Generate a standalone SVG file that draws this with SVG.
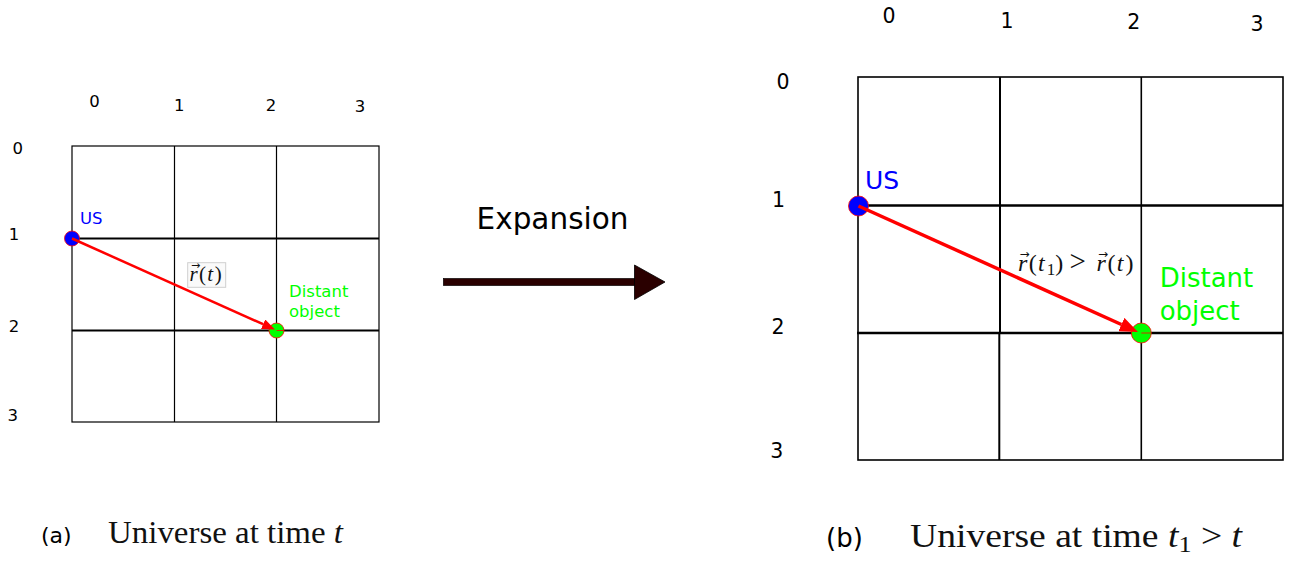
<svg xmlns="http://www.w3.org/2000/svg" width="1295" height="562" viewBox="0 0 1295 562">
<style>
  .lbl { font-family: "DejaVu Sans", "Liberation Sans", sans-serif; fill: #000; text-anchor: middle; }
  .sans { font-family: "DejaVu Sans", "Liberation Sans", sans-serif; }
  .math { font-family: "Liberation Serif", "DejaVu Serif", serif; fill: #111; }
  .it { font-style: italic; }
  .grid { fill: none; stroke: #000; }
  .us { fill: #0000ff; stroke: #ff0000; stroke-width: 0.8; }
  .obj { fill: #00ff00; stroke: #ff0000; stroke-width: 0.8; }
  .vec { stroke: #ff0000; fill: none; marker-end: url(#redhead); }
  .vacc { font-family: "DejaVu Sans", sans-serif; text-anchor: middle; fill: #111; }
</style>
<defs>
  <marker id="redhead" viewBox="0 0 10 8" markerWidth="5.2" markerHeight="4.2" refX="0" refY="4" orient="auto" markerUnits="strokeWidth">
    <path d="M0,0 L10,4 L0,8 Z" fill="#ff0000"/>
  </marker>
</defs>
<rect width="1295" height="562" fill="#fff"/>

<!-- Left panel -->
<g id="grid-left">
  <rect class="grid" x="72" y="146" width="307" height="276" stroke-width="1.2"/>
  <line class="grid" x1="174.5" y1="146" x2="174.5" y2="422" stroke-width="1.2"/>
  <line class="grid" x1="276.5" y1="146" x2="276.5" y2="422" stroke-width="1.2"/>
  <line class="grid" x1="72" y1="238.5" x2="379" y2="238.5" stroke-width="2"/>
  <line class="grid" x1="72" y1="330.5" x2="379" y2="330.5" stroke-width="2"/>
  <g font-size="16.5">
    <text class="lbl" x="94.5" y="107">0</text>
    <text class="lbl" x="179.3" y="110.7">1</text>
    <text class="lbl" x="271" y="110.7">2</text>
    <text class="lbl" x="360" y="112">3</text>
    <text class="lbl" x="17.7" y="154">0</text>
    <text class="lbl" x="14" y="240">1</text>
    <text class="lbl" x="14" y="331.7">2</text>
    <text class="lbl" x="12.7" y="420.7">3</text>
  </g>
</g>
<g id="us-left">
  <circle class="us" cx="72" cy="238.5" r="7.5"/>
  <text class="sans" x="80" y="224" font-size="16.5" fill="#0000ff">US</text>
</g>
<g id="object-left">
  <circle class="obj" cx="276.5" cy="330.5" r="7.5"/>
  <line x1="276.5" y1="330.5" x2="284" y2="330.5" stroke="#ff0000" stroke-width="0.8"/>
  <text class="sans" font-size="16.5" fill="#00ff00"><tspan x="289" y="296.7">Distant</tspan><tspan x="289" y="317.3">object</tspan></text>
</g>
<g id="label-left">
  <rect x="187.7" y="262.7" width="38" height="24.6" fill="#fafafa" stroke="#cfcfcf" stroke-width="1"/>
  <text class="math" y="280.8" font-size="21"><tspan class="it" x="189.5">r</tspan><tspan x="199">(</tspan><tspan class="it" x="207.2">t</tspan><tspan x="214.8">)</tspan></text>
  <text class="vacc" x="195.5" y="269" font-size="11">→</text>
</g>

<!-- Expansion arrow -->
<g id="expansion">
  <text class="sans" x="552.5" y="229.3" font-size="29.5" text-anchor="middle" fill="#000">Expansion</text>
  <rect x="443.3" y="278.4" width="192" height="7.2" fill="#2a0000" stroke="#000" stroke-width="0.6"/>
  <path d="M634.5,265 L665,282 L634.5,299.5 Z" fill="#2a0000" stroke="#000" stroke-width="0.8"/>
</g>

<!-- Right panel -->
<g id="grid-right">
  <rect class="grid" x="858" y="77" width="425" height="383" stroke-width="1.6"/>
  <line class="grid" x1="1000" y1="77" x2="1000" y2="333" stroke-width="2"/>
  <line class="grid" x1="999.3" y1="333" x2="999.3" y2="460" stroke-width="2"/>
  <line class="grid" x1="1141.3" y1="77" x2="1141.3" y2="460" stroke-width="1.6"/>
  <line class="grid" x1="858" y1="205.5" x2="1283" y2="205.5" stroke-width="2.5"/>
  <line class="grid" x1="857" y1="333" x2="1283" y2="333" stroke-width="2.5"/>
  <g font-size="20.5">
    <text class="lbl" x="889" y="23.3">0</text>
    <text class="lbl" x="1007" y="28.3">1</text>
    <text class="lbl" x="1133.7" y="29.3">2</text>
    <text class="lbl" x="1257" y="30.7">3</text>
    <text class="lbl" x="783" y="89.3">0</text>
    <text class="lbl" x="778.5" y="207.3">1</text>
    <text class="lbl" x="778" y="334.3">2</text>
    <text class="lbl" x="776.7" y="457.7">3</text>
  </g>
</g>
<g id="us-right">
  <circle class="us" cx="858.5" cy="206" r="10"/>
  <text class="sans" x="865" y="189" font-size="25" fill="#0000ff">US</text>
</g>
<g id="object-right">
  <circle class="obj" cx="1141.3" cy="333" r="10"/>
  <line x1="1141.3" y1="333" x2="1151" y2="333" stroke="#ff0000" stroke-width="0.8"/>
  <text class="sans" font-size="26" fill="#00ff00"><tspan x="1159.7" y="287">Distant</tspan><tspan x="1159.7" y="320.3">object</tspan></text>
</g>
<g id="label-right">
  <text class="math" y="271" font-size="24"><tspan class="it" x="1018">r</tspan><tspan x="1028.8">(</tspan><tspan class="it" x="1038.1">t</tspan><tspan x="1046.8" dy="4" font-size="17">1</tspan><tspan x="1055.2" dy="-4">)</tspan><tspan x="1069.5" font-size="29">&gt;</tspan><tspan class="it" x="1096.6">r</tspan><tspan x="1107.4">(</tspan><tspan class="it" x="1116.7">t</tspan><tspan x="1125.4">)</tspan></text>
  <text class="vacc" x="1024.5" y="258" font-size="12">→</text>
  <text class="vacc" x="1103" y="258" font-size="12">→</text>
</g>

<!-- Connectors -->
<g id="connectors">
  <line class="vec" x1="72" y1="238.5" x2="263.1" y2="324.2" stroke-width="2.5"/>
  <line class="vec" x1="858.5" y1="206" x2="1121.4" y2="324.5" stroke-width="3.5"/>
</g>

<!-- Captions -->
<g id="caption-a">
  <text class="sans" x="41" y="543" font-size="22" fill="#000">(a)</text>
  <text class="math" x="108" y="543" font-size="31" textLength="235" lengthAdjust="spacingAndGlyphs">Universe at time <tspan class="it">t</tspan></text>
</g>
<g id="caption-b">
  <text class="sans" x="826" y="547" font-size="26" fill="#000">(b)</text>
  <text class="math" x="910" y="547" font-size="33" textLength="332" lengthAdjust="spacingAndGlyphs">Universe at time <tspan class="it">t</tspan><tspan font-size="23" dy="5">1</tspan><tspan dy="-5"> &gt; </tspan><tspan class="it">t</tspan></text>
</g>
</svg>
